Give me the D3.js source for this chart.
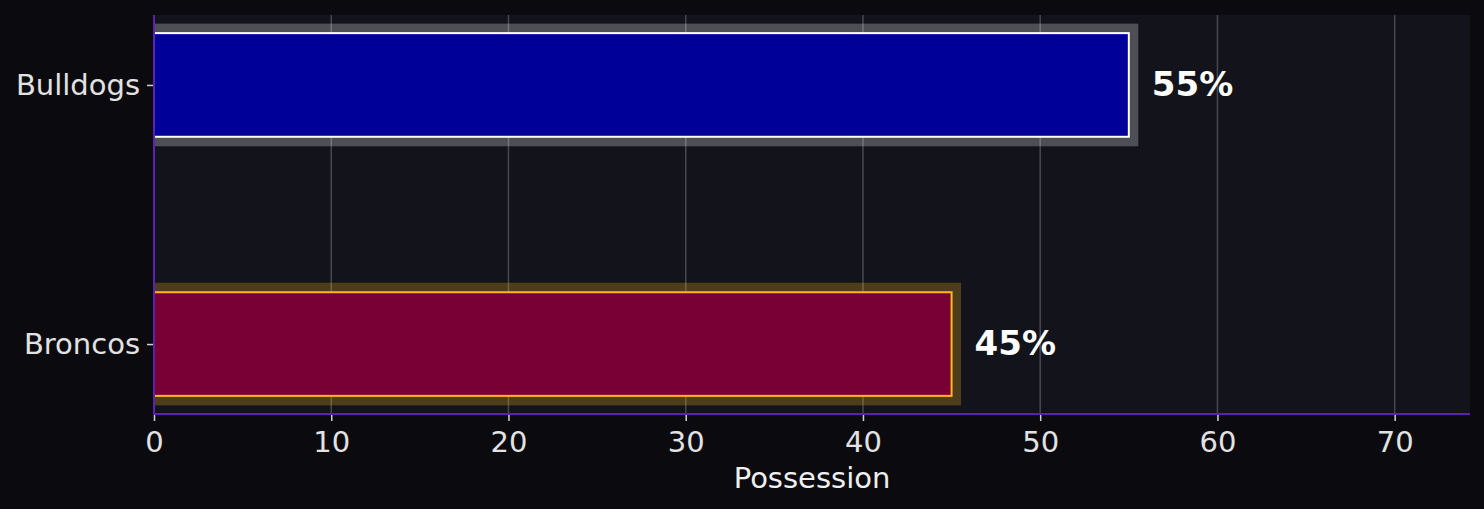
<!DOCTYPE html>
<html>
<head>
<meta charset="utf-8">
<script src="https://cdn.jsdelivr.net/npm/d3@7"></script>
<style>
  html, body { margin: 0; padding: 0; background: #0b0b0f; }
  text { font-family: "DejaVu Sans", sans-serif; }
</style>
</head>
<body>
<div id="chart"></div>
<script>
// data
const teams = ["Broncos", "Bulldogs"];
const possession = [45, 55];
const fills = ["#780034", "#000099"];
const edges = ["#ffb81c", "#ffffff"];
const xTicks = [0, 10, 20, 30, 40, 50, 60, 70];

const W = 1484, H = 509;
const margin = {top: 15, right: 14, bottom: 95, left: 154};
const width = W - margin.left - margin.right;
const height = H - margin.top - margin.bottom;

const svg = d3.select("#chart").append("svg")
    .attr("width", W)
    .attr("height", H);

svg.append("rect")
    .attr("width", W).attr("height", H)
    .attr("fill", "#0b0b0f");

const g = svg.append("g")
    .attr("transform", `translate(${margin.left}, ${margin.top})`);

// scales
const xScale = d3.scaleLinear()
    .domain([0, d3.max(possession) * 1.35])
    .range([0, width]);

const yScale = d3.scaleLinear()
    .domain([-0.27, teams.length - 1 + 0.27])
    .range([height, 0]);

const barH = 0.4;

g.append("rect")
    .attr("width", width).attr("height", height)
    .attr("fill", "#13141b");

g.append("clipPath").attr("id", "plotclip")
  .append("rect").attr("width", width).attr("height", height);

// vertical grid
g.append("g")
  .selectAll("line")
  .data(xTicks)
  .join("line")
    .attr("x1", d => xScale(d)).attr("x2", d => xScale(d))
    .attr("y1", 0).attr("y2", height)
    .attr("stroke", "#5a5a60")
    .attr("stroke-opacity", 0.75)
    .attr("stroke-width", 1.5);

const bars = g.append("g").attr("clip-path", "url(#plotclip)");

// glow behind each bar
const pad = 9.5;
bars.selectAll(".glow")
  .data(teams)
  .join("rect")
    .attr("class", "glow")
    .attr("x", xScale(0) - pad)
    .attr("y", (d, i) => yScale(i + barH / 2) - pad)
    .attr("width", (d, i) => xScale(possession[i]) - xScale(0) + 2 * pad)
    .attr("height", yScale(0) - yScale(barH) + 2 * pad)
    .attr("fill", (d, i) => edges[i])
    .attr("fill-opacity", 0.25);

bars.selectAll(".bar")
  .data(teams)
  .join("rect")
    .attr("class", "bar")
    .attr("x", xScale(0))
    .attr("y", (d, i) => yScale(i + barH / 2))
    .attr("width", (d, i) => xScale(possession[i]) - xScale(0))
    .attr("height", yScale(0) - yScale(barH))
    .attr("fill", (d, i) => fills[i])
    .attr("stroke", (d, i) => edges[i])
    .attr("stroke-width", 2);

// value labels
g.selectAll(".val")
  .data(teams)
  .join("text")
    .attr("class", "val")
    .attr("x", (d, i) => xScale(possession[i] + 1.3))
    .attr("y", (d, i) => yScale(i))
    .attr("dy", "0.33em")
    .attr("fill", "#ffffff")
    .attr("font-weight", "bold")
    .attr("font-size", 34)
    .text((d, i) => possession[i] + "%");

// x axis
const xAxis = g.append("g")
    .attr("transform", `translate(0, ${height})`)
    .call(d3.axisBottom(xScale).tickValues(xTicks).tickSize(7).tickPadding(10));
xAxis.select(".domain").remove();
xAxis.selectAll(".tick line").attr("stroke", "#d0d0d0").attr("stroke-width", 1.5);
xAxis.selectAll(".tick text")
    .attr("fill", "#e2e2e2")
    .attr("font-size", 29)
    .attr("font-family", "DejaVu Sans");

// y axis
const yAxis = g.append("g")
    .call(d3.axisLeft(yScale)
      .tickValues(d3.range(teams.length))
      .tickFormat(i => teams[i])
      .tickSize(7).tickPadding(7));
yAxis.select(".domain").remove();
yAxis.selectAll(".tick line").attr("stroke", "#d0d0d0").attr("stroke-width", 1.5);
yAxis.selectAll(".tick text")
    .attr("fill", "#e2e2e2")
    .attr("font-size", 29)
    .attr("font-family", "DejaVu Sans");

// spines
g.append("line")
    .attr("x1", 0).attr("x2", 0).attr("y1", 0).attr("y2", height)
    .attr("stroke", "#5b21b6").attr("stroke-width", 2);
g.append("line")
    .attr("x1", 0).attr("x2", width).attr("y1", height).attr("y2", height)
    .attr("stroke", "#5b21b6").attr("stroke-width", 2);

// axis label
g.append("text")
    .attr("x", width / 2)
    .attr("y", height + 74)
    .attr("text-anchor", "middle")
    .attr("fill", "#f0f0f0")
    .attr("font-size", 29)
    .text("Possession");
</script>
</body>
</html>
